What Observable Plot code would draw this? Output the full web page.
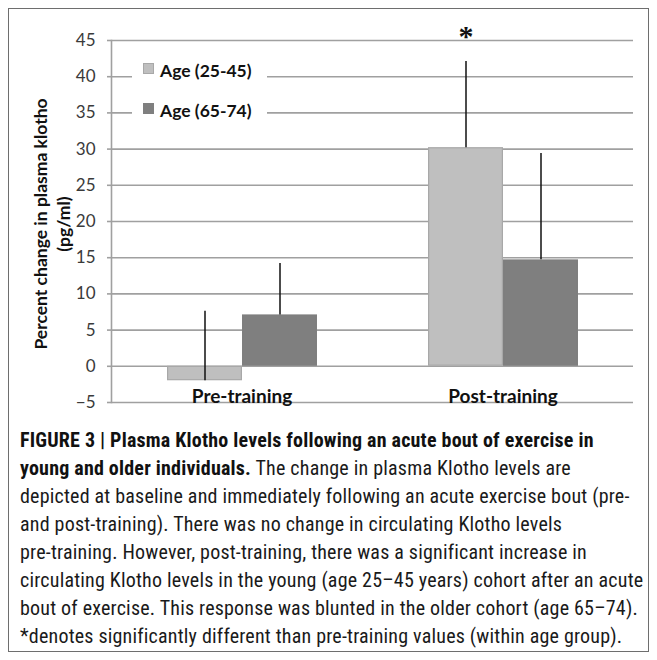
<!DOCTYPE html>
<html>
<head>
<meta charset="utf-8">
<script src="https://cdn.jsdelivr.net/npm/d3@7"></script>
<script src="https://cdn.jsdelivr.net/npm/@observablehq/plot@0.6"></script>
<style>
  html, body { margin: 0; padding: 0; background: #fff; }
  #page { position: relative; width: 657px; height: 660px; overflow: hidden; }
  #border { position: absolute; left: 8px; top: 8px; width: 639px; height: 642px; border: 1.5px solid #6e6e6e; }
  #chart { position: absolute; left: 0; top: 0; }
  #legend { position: absolute; left: 132px; top: 56px; width: 135px; height: 72px; background: #fff; font-family: Lato, "Open Sans", sans-serif; font-weight: bold; font-size: 17.5px; color: #111; }
  .entry { position: absolute; left: 0; white-space: nowrap; }
  .sw { position: absolute; left: 11px; top: -2px; width: 11px; height: 11px; box-sizing: border-box; }
  .lab { position: absolute; left: 28px; top: -5px; }
  #caption { position: absolute; left: 20px; top: 426px; width: 632px; font-family: "Liberation Sans Narrow", "Roboto Condensed", Roboto, sans-serif; font-size: 20px; letter-spacing: 0.2px; line-height: 28px; color: #1a1a1a; white-space: nowrap; }
  #caption b { font-weight: bold; color: #111; }
</style>
</head>
<body>
<div id="page">
  <div id="border"></div>
  <div id="chart"></div>
  <div id="legend"></div>
  <div id="caption"></div>
</div>
<script>
// ---- data ----
const groups = ["Pre-training", "Post-training"];
const series = ["Age (25-45)", "Age (65-74)"];
const youngValues = [-2.0, 30.2];
const olderValues = [7.1, 14.7];
const youngErrors = [9.6, 11.9];
const olderErrors = [7.1, 14.7];
const seriesColors = ["#bfbfbf", "#7f7f7f"];
const seriesStrokes = ["#a8a8a8", "#7f7f7f"];
const yTicks = [-5, 0, 5, 10, 15, 20, 25, 30, 35, 40, 45];
const yDomain = [-5, 45];
const significance = [{ group: "Post-training", series: "Age (25-45)", y: 45, label: "*" }];
const yTitle = ["Percent change in plasma klotho", "(pg/ml)"];
const captionLines = [
  "<b>FIGURE 3 | Plasma Klotho levels following an acute bout of exercise in</b>",
  "<b>young and older individuals.</b> The change in plasma Klotho levels are",
  "depicted at baseline and immediately following an acute exercise bout (pre-",
  "and post-training). There was no change in circulating Klotho levels",
  "pre-training. However, post-training, there was a significant increase in",
  "circulating Klotho levels in the young (age 25–45 years) cohort after an acute",
  "bout of exercise. This response was blunted in the older cohort (age 65–74).",
  "*denotes significantly different than pre-training values (within age group)."
];

const rows = groups.flatMap((g, i) => [
  { group: g, series: series[0], value: youngValues[i], err: youngErrors[i] },
  { group: g, series: series[1], value: olderValues[i], err: olderErrors[i] }
]);

const chart = Plot.plot({
  width: 657,
  height: 420,
  marginLeft: 111,
  marginRight: 24,
  marginTop: 40,
  marginBottom: 18,
  style: { fontFamily: "Lato, 'Open Sans', sans-serif", background: "transparent", overflow: "visible" },
  fx: { domain: groups, paddingInner: 0, paddingOuter: 0, label: null },
  x: { domain: series, paddingInner: 0, paddingOuter: 0.74, axis: null },
  y: { domain: yDomain, label: null },
  color: { domain: series, range: seriesColors },
  marks: [
    Plot.gridY(yTicks, { stroke: "#a0a0a0", strokeOpacity: 1, strokeWidth: 1.6 }),
    Plot.frame({ anchor: "left", facet: "super", stroke: "#a0a0a0", strokeWidth: 1.6 }),
    Plot.axisY(yTicks, { tickSize: 4, tickPadding: 12, fontSize: 17, fill: "#3a3a3a", stroke: "#a0a0a0", strokeWidth: 1.6, label: null }),
    Plot.axisFx({ anchor: "bottom", tickSize: 0, tickPadding: 0, lineAnchor: "bottom", fontSize: 19, fontWeight: "bold", fill: "#111", label: null }),
    Plot.barY(rows, {
      fx: "group", x: "series", y: "value",
      fill: "series",
      stroke: d => seriesStrokes[series.indexOf(d.series)],
      strokeWidth: 1.2, inset: 0.6
    }),
    Plot.ruleX(rows, {
      fx: "group", x: "series",
      y1: "value", y2: d => d.value + d.err,
      stroke: "#111", strokeWidth: 1.5
    }),
    Plot.text(significance, {
      fx: "group", x: "series", y: "y", text: "label",
      fontSize: 30, fontWeight: "bold", fontFamily: "'Liberation Serif', serif",
      lineAnchor: "middle", dy: -4, fill: "#111"
    })
  ]
});

// y-axis title as two rotated lines
const svg = d3.select(chart);
const titleG = svg.append("g")
  .attr("font-family", "Lato, 'Open Sans', sans-serif")
  .attr("font-weight", "bold")
  .attr("font-size", 17.5)
  .attr("fill", "#111")
  .attr("text-anchor", "middle");
yTitle.forEach((t, i) => {
  titleG.append("text")
    .attr("transform", `translate(${41 + i * 23},224) rotate(-90)`)
    .attr("dy", "0.35em")
    .text(t);
});

document.getElementById("chart").appendChild(chart);

// legend
const legend = document.getElementById("legend");
series.forEach((s, i) => {
  const e = document.createElement("div");
  e.className = "entry";
  e.style.top = (9 + i * 40) + "px";
  const sw = document.createElement("div");
  sw.className = "sw";
  sw.style.background = seriesColors[i];
  sw.style.border = "1px solid " + seriesStrokes[i];
  const lab = document.createElement("div");
  lab.className = "lab";
  lab.textContent = s;
  e.appendChild(sw);
  e.appendChild(lab);
  legend.appendChild(e);
});

document.getElementById("caption").innerHTML = captionLines.join("<br>");
</script>
</body>
</html>
